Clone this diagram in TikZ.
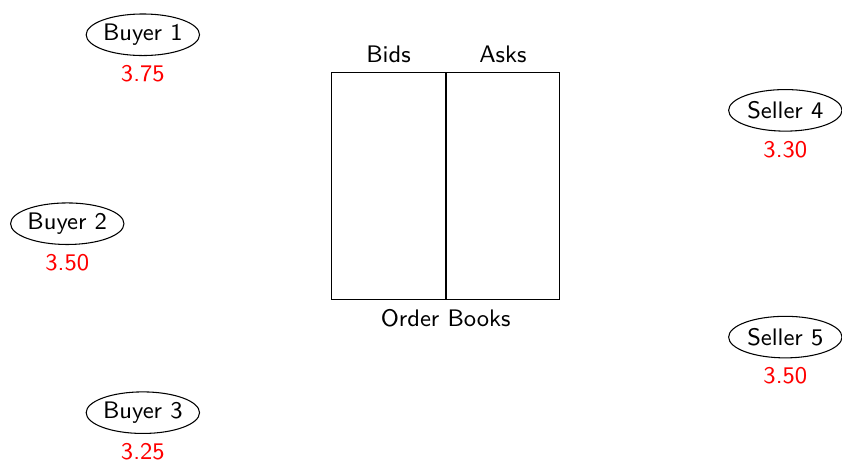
\documentclass[tikz,border=0pt]{standalone}
\usepackage{tikz}
\usetikzlibrary{shapes.geometric, positioning}

\begin{document}
\begin{tikzpicture}[font=\sffamily\small,
    agent/.style={ellipse, draw, inner sep=0pt,
                  minimum width=1.5cm, minimum height=0.55cm},
    book/.style={rectangle, draw, minimum width=1.5cm, minimum height=3cm}]
    \useasboundingbox (-5.89,2.46) rectangle (5.25,-3.64);

    % order books
    \node[book, label=above:Bids] (bids) at (-0.75,0) {};
    \node[book, label=above:Asks, right=0pt of bids] (asks) {};
    \node[below=0pt of bids.south east] (books) {Order Books};

    % buyers
    \node[agent, label={below:\textcolor{red}{3.75}}] (buyer1) at (-4,2) {Buyer 1};
    \node[agent, label={below:\textcolor{red}{3.50}}] (buyer2) at (-5,-0.5) {Buyer 2};
    \node[agent, label={below:\textcolor{red}{3.25}}] (buyer3) at (-4,-3) {Buyer 3};

    % sellers
    \node[agent, label={below:\textcolor{red}{3.30}}] (seller4) at (4.5,1) {Seller 4};
    \node[agent, label={below:\textcolor{red}{3.50}}] (seller5) at (4.5,-2) {Seller 5};
  \end{tikzpicture}
\end{document}
